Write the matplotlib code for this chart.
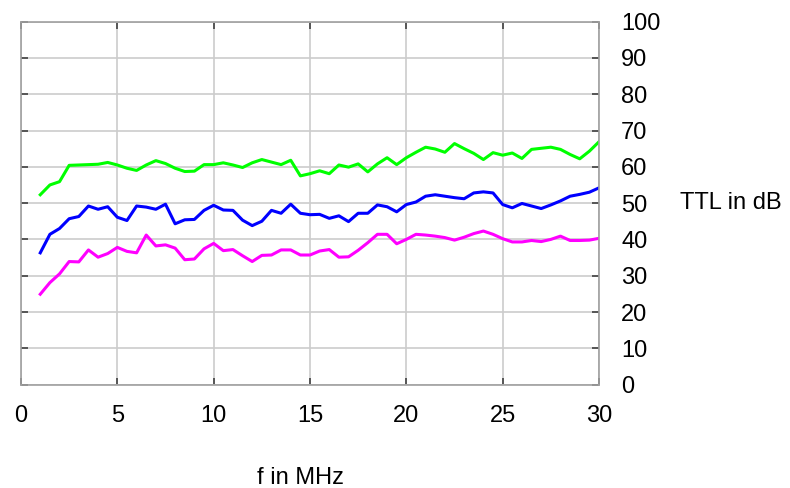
import numpy as np
from matplotlib import pyplot as plt

freq = np.arange(1.0, 30.01, 0.5)

ttl_green = [52.3, 55.0, 55.9, 60.4, 60.5, 60.6, 60.7, 61.2, 60.5, 59.6,
             59.0, 60.5, 61.7, 60.9, 59.6, 58.7, 58.8, 60.6, 60.6, 61.1,
             60.5, 59.8, 61.1, 62.0, 61.3, 60.6, 61.8, 57.5, 58.1, 58.9,
             58.1, 60.5, 59.9, 60.8, 58.6, 60.8, 62.5, 60.6, 62.5, 64.0,
             65.4, 64.9, 64.0, 66.4, 65.0, 63.7, 62.0, 63.9, 63.2, 63.8,
             62.3, 64.8, 65.1, 65.4, 64.8, 63.4, 62.2, 64.3, 66.9]

ttl_blue = [36.3, 41.4, 43.0, 45.7, 46.3, 49.2, 48.3, 49.0, 46.1, 45.2,
            49.2, 48.9, 48.3, 49.7, 44.3, 45.4, 45.5, 48.0, 49.4, 48.1,
            48.0, 45.3, 43.8, 45.0, 48.0, 47.2, 49.7, 47.2, 46.8, 46.9,
            45.8, 46.5, 44.9, 47.2, 47.2, 49.5, 49.0, 47.6, 49.6, 50.3,
            51.9, 52.3, 51.9, 51.5, 51.2, 52.8, 53.1, 52.8, 49.6, 48.7,
            49.9, 49.2, 48.5, 49.5, 50.6, 51.9, 52.4, 53.0, 54.2]

ttl_magenta = [24.9, 28.1, 30.5, 33.9, 33.8, 37.1, 35.1, 36.1, 37.8, 36.7,
               36.3, 41.2, 38.2, 38.5, 37.6, 34.4, 34.6, 37.4, 38.9, 36.9,
               37.2, 35.5, 33.9, 35.6, 35.7, 37.1, 37.1, 35.7, 35.7, 36.8,
               37.2, 35.1, 35.2, 37.0, 39.1, 41.4, 41.4, 38.8, 40.0, 41.4,
               41.2, 40.9, 40.5, 39.8, 40.6, 41.6, 42.3, 41.4, 40.2, 39.3,
               39.3, 39.7, 39.4, 40.0, 40.9, 39.7, 39.7, 39.8, 40.3]

x_ticks = [0, 5, 10, 15, 20, 25, 30]
y_ticks = list(range(0, 101, 10))

plt.rcParams['font.family'] = ['Liberation Sans', 'DejaVu Sans']

fig = plt.figure(figsize=(7.9, 4.88), dpi=100)
ax = fig.add_axes([21 / 790, 1 - 384.6 / 488, 578 / 790, 363 / 488])

ax.plot(freq, ttl_green, color='#00ff00', lw=2.2)
ax.plot(freq, ttl_blue, color='#0000ff', lw=2.2)
ax.plot(freq, ttl_magenta, color='#ff00ff', lw=2.2)

ax.set_xlim(0, 30)
ax.set_ylim(0, 100)
ax.set_xticks(x_ticks)
ax.set_yticks(y_ticks)
ax.grid(True, color='#cccccc', lw=1.2)
ax.set_axisbelow(True)

for s in ax.spines.values():
    s.set_color('#a0a0a0')
    s.set_linewidth(1.2)

ax.tick_params(direction='in', length=5, width=1.2, color='#404040',
               top=True, right=True, left=True, bottom=True,
               labelleft=False, labelright=True, labelsize=17)
ax.tick_params(axis='x', pad=15)
ax.tick_params(axis='y', pad=16)
for lbl in ax.get_yticklabels():
    lbl.set_horizontalalignment('left')

ax.set_xlabel("f in MHz", fontsize=17)
ax.xaxis.set_label_coords(0.484, -0.256)
ax.xaxis.label.set_va('center')
ax.yaxis.set_label_position('right')
ax.set_ylabel("TTL in dB", fontsize=17, rotation=0, ha='left', va='center')
ax.yaxis.set_label_coords(1.14, 0.5)

fig.savefig("out.png", dpi=100)
